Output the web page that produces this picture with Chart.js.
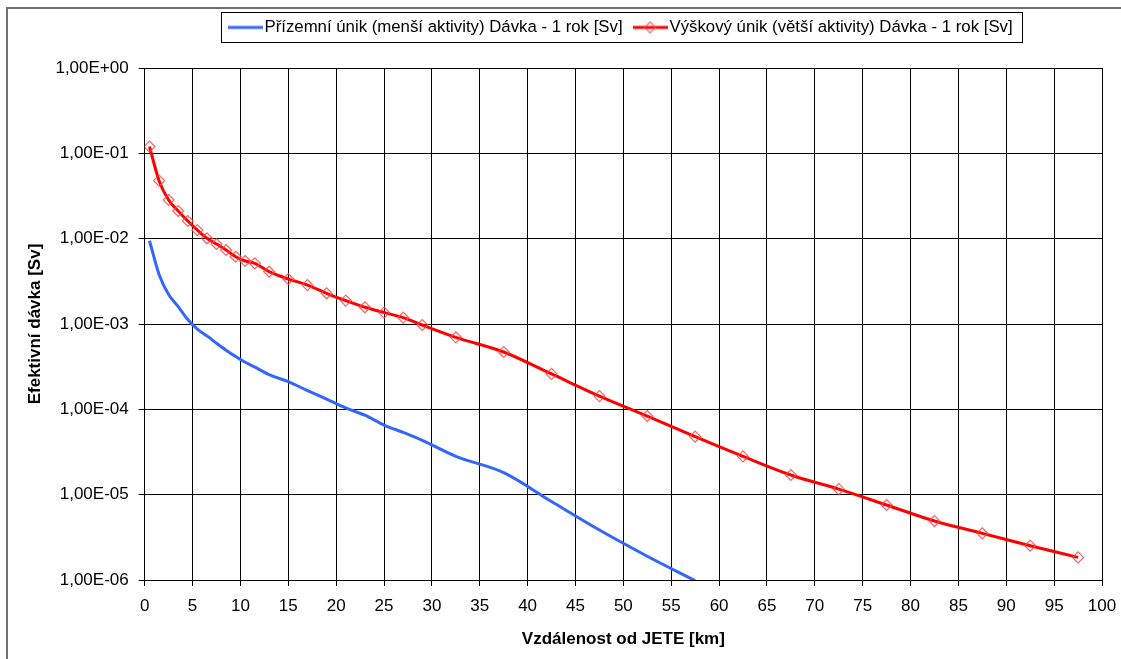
<!DOCTYPE html>
<html>
<head>
<meta charset="utf-8">
<script src="https://cdn.jsdelivr.net/npm/chart.js@4.4.1/dist/chart.umd.min.js"></script>
<style>
  html, body { margin: 0; padding: 0; background: #ffffff; }
  #wrap { position: relative; width: 1121px; height: 659px; }
</style>
</head>
<body>
<div id="wrap"><canvas id="c" width="1121" height="659"></canvas></div>
<script>
// ---- data ----
const seriesNames = [
  'Přízemní únik (menší aktivity) Dávka - 1 rok [Sv]',
  'Výškový únik (větší aktivity) Dávka - 1 rok [Sv]'
];
const distBlue = [0.5,1.5,2.5,3.5,4.5,5.5,6.5,7.5,8.5,9.5,10.5,11.5,13,15,17,19,21,23,25,27,29,32.5,37.5,42.5,47.5,52.5,57.5];
const doseBlue = [9.46e-3,3.81e-3,2.22e-3,1.60e-3,1.13e-3,8.73e-4,7.25e-4,5.96e-4,4.93e-4,4.15e-4,3.56e-4,3.12e-4,2.55e-4,2.11e-4,1.66e-4,1.32e-4,1.04e-4,8.53e-5,6.55e-5,5.37e-5,4.33e-5,2.81e-5,1.81e-5,8.3e-6,3.85e-6,1.9e-6,9.8e-7];
const distRed = [0.5,1.5,2.5,3.5,4.5,5.5,6.5,7.5,8.5,9.5,10.5,11.5,13,15,17,19,21,23,25,27,29,32.5,37.5,42.5,47.5,52.5,57.5,62.5,67.5,72.5,77.5,82.5,87.5,92.5,97.5];
const doseRed = [0.12,0.0478,0.0284,0.0211,0.0161,0.0126,0.0101,0.00866,0.00736,0.00615,0.00547,0.00514,0.0041,0.00337,0.00286,0.00229,0.00188,0.00157,0.00136,0.00119,0.000973,0.000698,0.00047,0.00026,0.000143,8.35e-5,4.78e-5,2.81e-5,1.70e-5,1.16e-5,7.57e-6,4.91e-6,3.52e-6,2.52e-6,1.84e-6];
const xTickValues = [0,5,10,15,20,25,30,35,40,45,50,55,60,65,70,75,80,85,90,95,100];
const yTickValues = [1e-6,1e-5,1e-4,1e-3,1e-2,1e-1,1];
const yTickLabels = ['1,00E-06','1,00E-05','1,00E-04','1,00E-03','1,00E-02','1,00E-01','1,00E+00'];
const xTitle = 'Vzdálenost od JETE [km]';
const yTitle = 'Efektivní dávka [Sv]';

// ---- styles ----
const BLUE = '#3366FF';
const RED = '#FF0000';
const MARKER = 'rgba(255,70,70,0.85)';
Chart.defaults.font.family = '"Liberation Sans", Arial, sans-serif';
Chart.defaults.font.size = 17;
Chart.defaults.color = '#000';

function sample(color, withMarker) {
  const c = document.createElement('canvas');
  c.width = 35; c.height = 14;
  const g = c.getContext('2d');
  g.strokeStyle = color; g.lineWidth = 3;
  g.beginPath(); g.moveTo(0, 7); g.lineTo(35, 7); g.stroke();
  if (withMarker) {
    g.strokeStyle = MARKER; g.lineWidth = 1.2;
    g.beginPath(); g.moveTo(17.5, 1.5); g.lineTo(23, 7); g.lineTo(17.5, 12.5); g.lineTo(12, 7); g.closePath(); g.stroke();
  }
  return c;
}
const samples = [sample(BLUE, false), sample(RED, true)];

const PAD_TOP = 2.5, LEG_PAD = 16.5, CHART_TOP = 68, CHART_BOTTOM = 580, CHART_LEFT = 144.7;

const framePlugin = {
  id: 'frame',
  beforeLayout(chart) {
    const lg = chart.legend;
    if (lg && !lg._patched) {
      const orig = lg.fit.bind(lg);
      lg.fit = function () { orig(); this.height = CHART_TOP - PAD_TOP; };
      lg._patched = true;
    }
  },
  beforeDraw(chart) {
    const ctx = chart.ctx;
    ctx.save();
    ctx.fillStyle = '#fff';
    ctx.fillRect(0, 0, chart.width, chart.height);
    ctx.strokeStyle = '#707070';
    ctx.lineWidth = 2;
    ctx.beginPath();
    ctx.moveTo(7, chart.height); ctx.lineTo(7, 8); ctx.lineTo(chart.width, 8);
    ctx.stroke();
    ctx.restore();
  },
  afterDraw(chart) {
    const lg = chart.legend;
    if (!lg || !lg.legendHitBoxes || !lg.legendHitBoxes.length) return;
    const hb = lg.legendHitBoxes;
    const first = hb[0], last = hb[hb.length - 1];
    const cy = first.top + first.height / 2;
    const left = Math.round(first.left - 6.5 - 7) + 0.5;
    const right = Math.round(last.left + last.width + 9) + 0.5;
    const top = Math.round(cy - 15.5) + 0.5;
    const bottom = Math.round(cy + 14.5) + 0.5;
    const ctx = chart.ctx;
    ctx.save();
    ctx.strokeStyle = '#000';
    ctx.lineWidth = 1;
    ctx.strokeRect(left, top, right - left, bottom - top);
    ctx.restore();
  }
};

new Chart(document.getElementById('c'), {
  type: 'line',
  data: {
    datasets: [
      {
        label: seriesNames[0],
        data: distBlue.map((x, i) => ({x: x, y: doseBlue[i]})),
        borderColor: BLUE,
        backgroundColor: BLUE,
        borderWidth: 3,
        pointRadius: 0,
        cubicInterpolationMode: 'monotone',
        fill: false
      },
      {
        label: seriesNames[1],
        data: distRed.map((x, i) => ({x: x, y: doseRed[i]})),
        borderColor: RED,
        backgroundColor: RED,
        borderWidth: 3,
        pointStyle: 'rectRot',
        pointRadius: 5.5,
        pointBorderWidth: 1.2,
        pointBorderColor: MARKER,
        pointBackgroundColor: 'rgba(0,0,0,0)',
        cubicInterpolationMode: 'monotone',
        fill: false
      }
    ]
  },
  options: {
    responsive: false,
    animation: false,
    events: [],
    layout: { padding: { top: PAD_TOP, left: 0, right: 19, bottom: 0 } },
    plugins: {
      tooltip: { enabled: false },
      legend: {
        display: true,
        position: 'top',
        fullSize: false,
        align: 'center',
        labels: {
          usePointStyle: true,
          pointStyleWidth: 22,
          boxHeight: 14,
          padding: LEG_PAD,
          color: '#000',
          font: { size: 16.8 },
          generateLabels(chart) {
            const items = Chart.defaults.plugins.legend.labels.generateLabels(chart);
            items.forEach((it, i) => { it.pointStyle = samples[i]; });
            return items;
          }
        }
      }
    },
    scales: {
      x: {
        type: 'linear',
        min: 0,
        max: 100,
        afterBuildTicks(scale) { scale.ticks = xTickValues.map(v => ({value: v})); },
        afterFit(scale) { scale.height = 659 - CHART_BOTTOM; scale.paddingLeft = 5; scale.paddingRight = 15; },
        ticks: { padding: 10, color: '#000', font: { size: 17 }, maxRotation: 0, autoSkip: false,
                 callback: (v) => String(v) },
        grid: { color: '#000', lineWidth: 1, tickLength: 6, drawTicks: true },
        border: { color: '#000', width: 1 },
        title: { display: true, text: xTitle, color: '#000', font: { size: 17, weight: 'bold' }, padding: { top: 0, bottom: 9 } }
      },
      y: {
        type: 'logarithmic',
        min: 1e-6,
        max: 1,
        afterBuildTicks(scale) { scale.ticks = yTickValues.map(v => ({value: v})); },
        afterFit(scale) { scale.width = CHART_LEFT; },
        ticks: { padding: 10, color: '#000', font: { size: 17 }, autoSkip: false,
                 callback: (v, i) => yTickLabels[i] },
        grid: { color: '#000', lineWidth: 1, tickLength: 6, drawTicks: true },
        border: { color: '#000', width: 1 },
        title: { display: true, text: yTitle, color: '#000', font: { size: 17, weight: 'bold' }, padding: { top: 25, bottom: 0 } }
      }
    }
  },
  plugins: [framePlugin]
});
</script>
</body>
</html>
